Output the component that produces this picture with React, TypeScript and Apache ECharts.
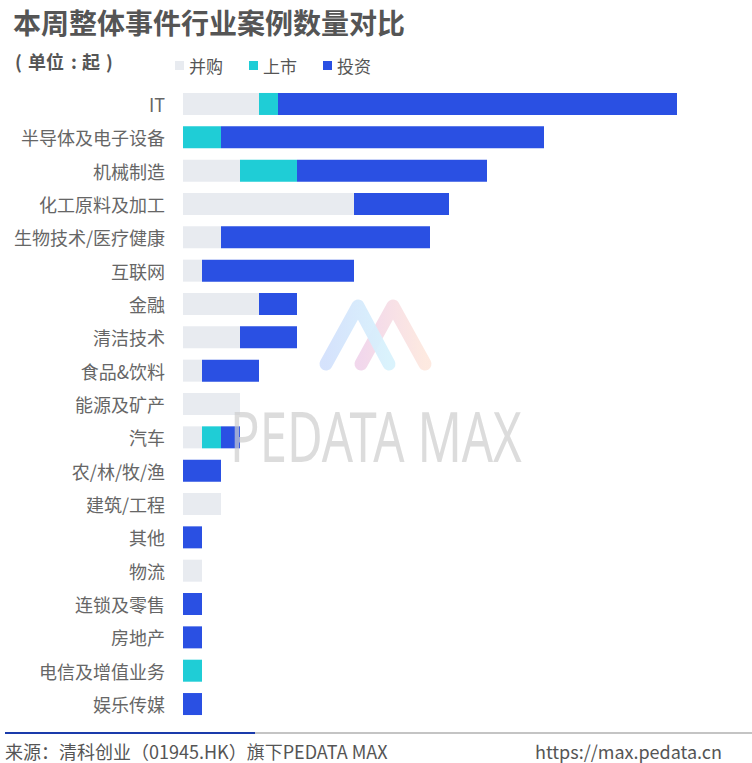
import React, { useEffect, useRef } from "react";
import * as echarts from "echarts";

const categories = [
  "IT",
  "半导体及电子设备",
  "机械制造",
  "化工原料及加工",
  "生物技术/医疗健康",
  "互联网",
  "金融",
  "清洁技术",
  "食品&饮料",
  "能源及矿产",
  "汽车",
  "农/林/牧/渔",
  "建筑/工程",
  "其他",
  "物流",
  "连锁及零售",
  "房地产",
  "电信及增值业务",
  "娱乐传媒",
];
const mergerValues = [4, 0, 3, 9, 2, 1, 4, 3, 1, 3, 1, 0, 2, 0, 1, 0, 0, 0, 0];
const ipoValues = [1, 2, 3, 0, 0, 0, 0, 0, 0, 0, 1, 0, 0, 0, 0, 0, 0, 1, 0];
const investValues = [21, 17, 10, 5, 11, 8, 2, 3, 3, 0, 1, 2, 0, 1, 0, 1, 1, 0, 1];
const seriesNames = ["并购", "上市", "投资"];

const FONT = "'Noto Sans CJK SC', 'Noto Sans', sans-serif";

export default function App() {
  const ref = useRef<HTMLDivElement>(null);
  useEffect(() => {
    if (!ref.current) return;
    const chart = echarts.init(ref.current, null, { renderer: "svg" });
    const colors = ["#e8ebf0", "#1fcdd6", "#2a50e3"];
    const datasets = [mergerValues, ipoValues, investValues];
    const unitPieces: [string, number][] = [
      ["(", 15],
      ["单位", 28],
      [":", 71],
      ["起", 82],
      [")", 106],
    ];
    chart.setOption({
      animation: false,
      backgroundColor: "#ffffff",
      textStyle: { fontFamily: FONT },
      title: {
        text: "本周整体事件行业案例数量对比",
        left: 8,
        top: 3,
        textStyle: { fontSize: 28, fontWeight: "bold", color: "#555555", fontFamily: FONT },
      },
      legend: {
        left: 170,
        top: 52,
        itemWidth: 9,
        itemHeight: 9,
        itemGap: 26,
        icon: "rect",
        textStyle: { fontSize: 17, color: "#555555", fontFamily: FONT },
        data: seriesNames,
      },
      grid: { left: 183, right: 75, top: 87.3, bottom: 763 - 720.7, containLabel: false },
      xAxis: {
        type: "value",
        min: 0,
        max: 26,
        show: false,
      },
      yAxis: {
        type: "category",
        inverse: true,
        data: categories,
        axisLine: { show: false },
        axisTick: { show: false },
        axisLabel: { fontSize: 18, color: "#666666", margin: 18, fontFamily: FONT },
      },
      series: seriesNames.map((name, i) => ({
        name,
        type: "bar",
        stack: "total",
        barWidth: 22,
        itemStyle: { color: colors[i] },
        data: datasets[i],
      })),
      graphic: [
        ...unitPieces.map(([t, x]) => ({
          type: "text",
          x,
          y: 61,
          style: {
            text: t,
            fontSize: 18,
            fontWeight: "bold",
            fill: "#555555",
            fontFamily: FONT,
            verticalAlign: "middle",
          },
        })),
        {
          type: "polyline",
          z: 100,
          shape: { points: [[361, 364], [393, 306], [425, 364]] },
          style: {
            fill: null,
            stroke: new echarts.graphic.LinearGradient(0, 0, 1, 0, [
              { offset: 0, color: "#f0d3ea" },
              { offset: 1, color: "#fde7dd" },
            ]),
            lineWidth: 13,
            lineCap: "round",
            lineJoin: "round",
            opacity: 0.9,
          },
        },
        {
          type: "polyline",
          z: 101,
          shape: { points: [[326, 364], [358, 306], [389, 364]] },
          style: {
            fill: null,
            stroke: new echarts.graphic.LinearGradient(0, 0, 1, 0, [
              { offset: 0, color: "#d3e1fc" },
              { offset: 1, color: "#d8f2fc" },
            ]),
            lineWidth: 13,
            lineCap: "round",
            lineJoin: "round",
            opacity: 0.95,
          },
        },
        {
          type: "text",
          z: 102,
          x: 230,
          y: 435,
          scaleX: 0.7,
          scaleY: 1,
          style: {
            text: "PEDATA MAX",
            fontSize: 70,
            fill: "rgba(205,205,205,0.7)",
            fontFamily: "'Noto Sans', sans-serif",
            verticalAlign: "middle",
          },
        },
        {
          type: "line",
          shape: { x1: 5, y1: 733, x2: 255, y2: 733 },
          style: { stroke: "#1a3bab", lineWidth: 2 },
        },
        {
          type: "line",
          shape: { x1: 255, y1: 733, x2: 752, y2: 733 },
          style: { stroke: "#c4c4c4", lineWidth: 2 },
        },
        {
          type: "text",
          x: 5,
          y: 751,
          style: {
            text: "来源：清科创业（01945.HK）旗下PEDATA MAX",
            fontSize: 18,
            fill: "#555555",
            fontFamily: FONT,
            verticalAlign: "middle",
          },
        },
        {
          type: "text",
          x: 722,
          y: 751,
          style: {
            text: "https://max.pedata.cn",
            fontSize: 18,
            fill: "#555555",
            fontFamily: FONT,
            align: "right",
            verticalAlign: "middle",
          },
        },
      ],
    });
    return () => chart.dispose();
  }, []);
  return (
    <div
      ref={ref}
      style={{ position: "absolute", left: 0, top: 0, width: 752, height: 763 }}
    />
  );
}
